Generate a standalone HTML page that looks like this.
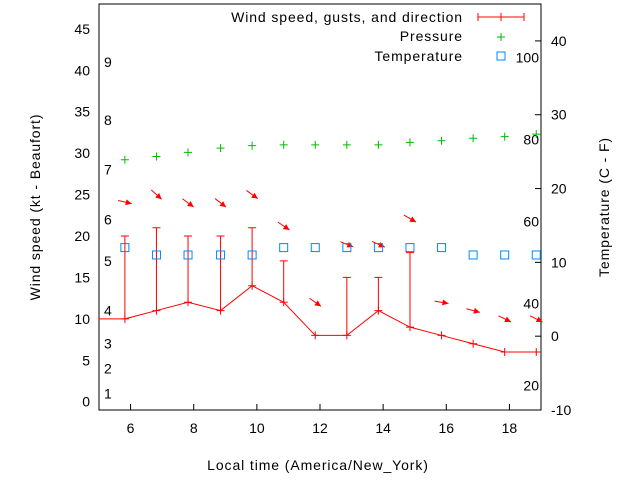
<!DOCTYPE html>
<html><head><meta charset="utf-8"><style>
body{margin:0;background:#fff}
svg{display:block;font-family:"Liberation Sans",sans-serif;font-size:14px}
.w{letter-spacing:0.9px}
</style></head><body>
<svg id="c" width="640" height="480"></svg>
<script>
const times=[5.82,6.82,7.82,8.85,9.85,10.85,11.85,12.85,13.85,14.85,15.85,16.85,17.85,18.85];
const wind=[10,11,12,11,14,12,8,8,11,9,8,7,6,6];
const gusts=[20,21,20,20,21,17,null,15,15,18,null,null,null,null];
const pressure=[29.2,29.6,30.1,30.6,30.9,31.0,31.0,31.0,31.0,31.3,31.5,31.8,32.0,32.3];
const temps=[12,11,11,11,11,12,12,12,12,12,12,11,11,11];
const arrowY=[24.1,25,24,24,25,21.2,12,19,19,22.1,12,11,10,10];
const arrowAng=[13,42,36,38,36,34,35,22,24,30,10,15,26,26];
const xTicks=[6,8,10,12,14,16,18];
const yTicks=[0,5,10,15,20,25,30,35,40,45];
const y2Ticks=[-10,0,10,20,30,40];
const beaufort=[[1,1],[2,4],[3,7],[4,11],[5,17],[6,22],[7,28],[8,34],[9,41]];
const fahr=[20,40,60,80,100];
const L=99,R=541,T=4,B=410;
const X=v=>L+(v-5)/(19-5)*(R-L);
const Y=v=>B-(v+1)/(48+1)*(B-T);
const Y2=v=>B-(v+10)/(45+10)*(B-T);
const s=document.getElementById('c');
function el(t,a,txt){const e=document.createElementNS('http://www.w3.org/2000/svg',t);for(const k in a)e.setAttribute(k,a[k]);if(txt!==undefined)e.textContent=txt;s.appendChild(e);return e;}
let e;
e=el('rect',{x:L,y:T,width:R-L,height:B-T,fill:'none',stroke:'#000'});


xTicks.forEach(v=>{
 e=el('line',{x1:X(v),x2:X(v),y1:B,y2:B-6,stroke:'#000'});
 
 
 e=el('text',{x:X(v),y:B+23,'text-anchor':'middle'},v);
 
 
});
yTicks.forEach(v=>{
 e=el('text',{x:L-9,y:Y(v)+5,'text-anchor':'end'},v);
 
 
});
y2Ticks.forEach(v=>{
 e=el('line',{x1:R,x2:R-6,y1:Y2(v),y2:Y2(v),stroke:'#000'});
 
 
 e=el('text',{x:R+10,y:Y2(v)+5},v);
 
 
});
beaufort.forEach(b=>{
 e=el('text',{x:104,y:Y(b[1])+5},b[0]);
 
 
});
fahr.forEach(f=>{
 e=el('text',{x:539,y:Y2((f-32)*5/9)+5,'text-anchor':'end'},f);
 
 
});
e=el('text',{x:318,y:470,'text-anchor':'middle',class:'w'},'Local time (America/New_York)');


e=el('text',{x:40,y:207,'text-anchor':'middle',class:'w',transform:'rotate(-90 40 207)'},'Wind speed (kt - Beaufort)');


e=el('text',{x:609,y:207,'text-anchor':'middle',class:'w',transform:'rotate(-90 609 207)'},'Temperature (C - F)');


let pts=[[L,Y(wind[0])]].concat(times.map((t,i)=>[X(t),Y(wind[i])]));
e=el('polyline',{points:pts.map(p=>p.join(',')).join(' '),fill:'none',stroke:'#f00'});


times.forEach((t,i)=>{
 const x=X(t),y=Y(wind[i]);
 e=el('path',{d:`M${x-4},${y}H${x+4}M${x},${y-4}V${y+4}`,stroke:'#f00'});
 
 
 if(gusts[i]!==null){
  const g=Y(gusts[i]);
  e=el('path',{d:`M${x},${y}V${g}M${x-4},${g}H${x+4}`,stroke:'#f00'});
  
  
 }
 const cy=Y(arrowY[i]),a=arrowAng[i]*Math.PI/180,dx=Math.cos(a)*7,dy=Math.sin(a)*7;
 const hx=x+dx,hy=cy+dy;
 const bx=hx-Math.cos(a)*6,by=hy-Math.sin(a)*6,px=-Math.sin(a)*3,py=Math.cos(a)*3;
 e=el('line',{x1:x-dx,y1:cy-dy,x2:hx,y2:hy,stroke:'#f00'});
 
 
 e=el('polygon',{points:`${hx},${hy} ${bx+px},${by+py} ${bx-px},${by-py}`,fill:'#f00'});
 
 
 const px2=X(t),py2=Y(pressure[i]);
 e=el('path',{d:`M${px2-4},${py2}H${px2+4}M${px2},${py2-4}V${py2+4}`,stroke:'#0b0'});
 
 
 const ty=Y2(temps[i]);
 e=el('rect',{x:px2-4,y:ty-4,width:8,height:8,fill:'none',stroke:'#08f'});
 
 
});
e=el('text',{x:463,y:22,'text-anchor':'end',class:'w'},'Wind speed, gusts, and direction');


e=el('path',{d:'M478,17H524M478,13V21M524,13V21M501,13V21',stroke:'#f00'});


e=el('text',{x:463,y:41,'text-anchor':'end',class:'w'},'Pressure');


e=el('path',{d:'M497,37H505M501,33V41',stroke:'#0b0'});


e=el('text',{x:463,y:61,'text-anchor':'end',class:'w'},'Temperature');


e=el('rect',{x:497,y:52,width:8,height:8,fill:'none',stroke:'#08f'});


</script>
</body></html>
